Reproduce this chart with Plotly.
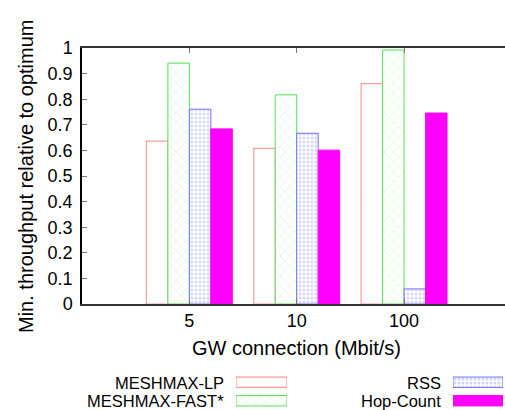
import plotly.graph_objects as go

# GW connection speeds (Mbit/s) and minimum throughput relative to the optimum
categories = ["5", "10", "100"]
meshmax_lp = [0.636, 0.608, 0.861]
meshmax_fast = [0.941, 0.817, 0.992]
rss = [0.761, 0.667, 0.059]
hop_count = [0.684, 0.601, 0.746]

W, H = 505, 410
FONT = "Liberation Sans, Arial, Helvetica, sans-serif"

def px_x(v):
    return v / W

def px_y(v):
    return 1 - v / H

styles = [
    ("MESHMAX-LP", meshmax_lp,
     dict(color="white", line=dict(color="#ff9a9a", width=1.2))),
    ("MESHMAX-FAST*", meshmax_fast,
     dict(color="white", line=dict(color="#55e055", width=1),
          pattern=dict(shape="x", fgcolor="#8cf08c", size=7, solidity=0.12))),
    ("RSS", rss,
     dict(color="white", line=dict(color="#7070ff", width=1),
          pattern=dict(shape=".", fgcolor="#aeaefc", size=4, solidity=0.45))),
    ("Hop-Count", hop_count,
     dict(color="#ff00ff", line=dict(color="#ff00ff", width=1))),
]

fig = go.Figure()
x_idx = list(range(len(categories)))
for name, vals, marker in styles:
    fig.add_trace(go.Bar(x=x_idx, y=vals, name=name, marker=marker,
                         showlegend=False, xaxis="x", yaxis="y"))

# Legend keys: two columns, label to the left of a patterned swatch
legend_cols = [(styles[0:2], "x2", "y2", 236, 287), (styles[2:4], "x3", "y3", 453, 503)]
annotations = []
for col, xa, ya, x0, x1 in legend_cols:
    for row, (name, _, marker) in enumerate(col):
        fig.add_trace(go.Bar(x=[1], y=[row], orientation="h", width=0.56,
                             marker=marker, showlegend=False,
                             xaxis=xa, yaxis=ya))
        annotations.append(dict(
            text=name, xref="paper", yref="paper",
            x=px_x(x0 - 10), y=px_y(382.5 + 18.5 * row),
            xanchor="right", yanchor="middle", showarrow=False,
            font=dict(family=FONT, size=16.5, color="black")))

# axis titles
annotations.append(dict(text="GW connection (Mbit/s)", xref="paper", yref="paper",
                        x=px_x(296), y=px_y(348), xanchor="center", yanchor="middle",
                        showarrow=False, font=dict(family=FONT, size=20, color="black")))
annotations.append(dict(text="Min. throughput relative to optimum", xref="paper", yref="paper",
                        x=px_x(26), y=px_y(176), xanchor="center", yanchor="middle",
                        textangle=-90, showarrow=False,
                        font=dict(family=FONT, size=20, color="black")))

aux_axis = dict(visible=False, showgrid=False, zeroline=False,
                fixedrange=True, automargin=False)

fig.update_layout(
    width=W, height=H,
    margin=dict(l=0, r=0, t=0, b=0, pad=0, autoexpand=False),
    paper_bgcolor="white", plot_bgcolor="white",
    barmode="group", bargap=0.2, bargroupgap=0,
    font=dict(family=FONT, size=18, color="black"),
    xaxis=dict(
        domain=[px_x(82), 1], range=[-1, 2.94],
        tickmode="array", tickvals=x_idx, ticktext=categories,
        ticks="inside", ticklen=5, tickcolor="#777777",
        showline=True, linecolor="#333333", linewidth=1.5, mirror="ticks",
        showgrid=False, zeroline=False, anchor="y", automargin=False,
        tickfont=dict(family=FONT, size=18, color="black"),
    ),
    yaxis=dict(
        domain=[px_y(304), px_y(48)], range=[0, 1],
        tickmode="linear", tick0=0, dtick=0.1,
        ticks="inside", ticklen=5, tickcolor="#777777",
        showline=True, linecolor="black", linewidth=1.5,
        showgrid=False, zeroline=False, anchor="x", automargin=False,
        ticklabelstandoff=4,
        tickfont=dict(family=FONT, size=18, color="black"),
    ),
    xaxis2=dict(aux_axis, domain=[px_x(236), px_x(287)], range=[0, 1], anchor="y2"),
    yaxis2=dict(aux_axis, domain=[px_y(410), px_y(373)], range=[1.5, -0.5], anchor="x2"),
    xaxis3=dict(aux_axis, domain=[px_x(453), px_x(503)], range=[0, 1], anchor="y3"),
    yaxis3=dict(aux_axis, domain=[px_y(410), px_y(373)], range=[1.5, -0.5], anchor="x3"),
    annotations=annotations,
)

fig.write_html("out.html")
